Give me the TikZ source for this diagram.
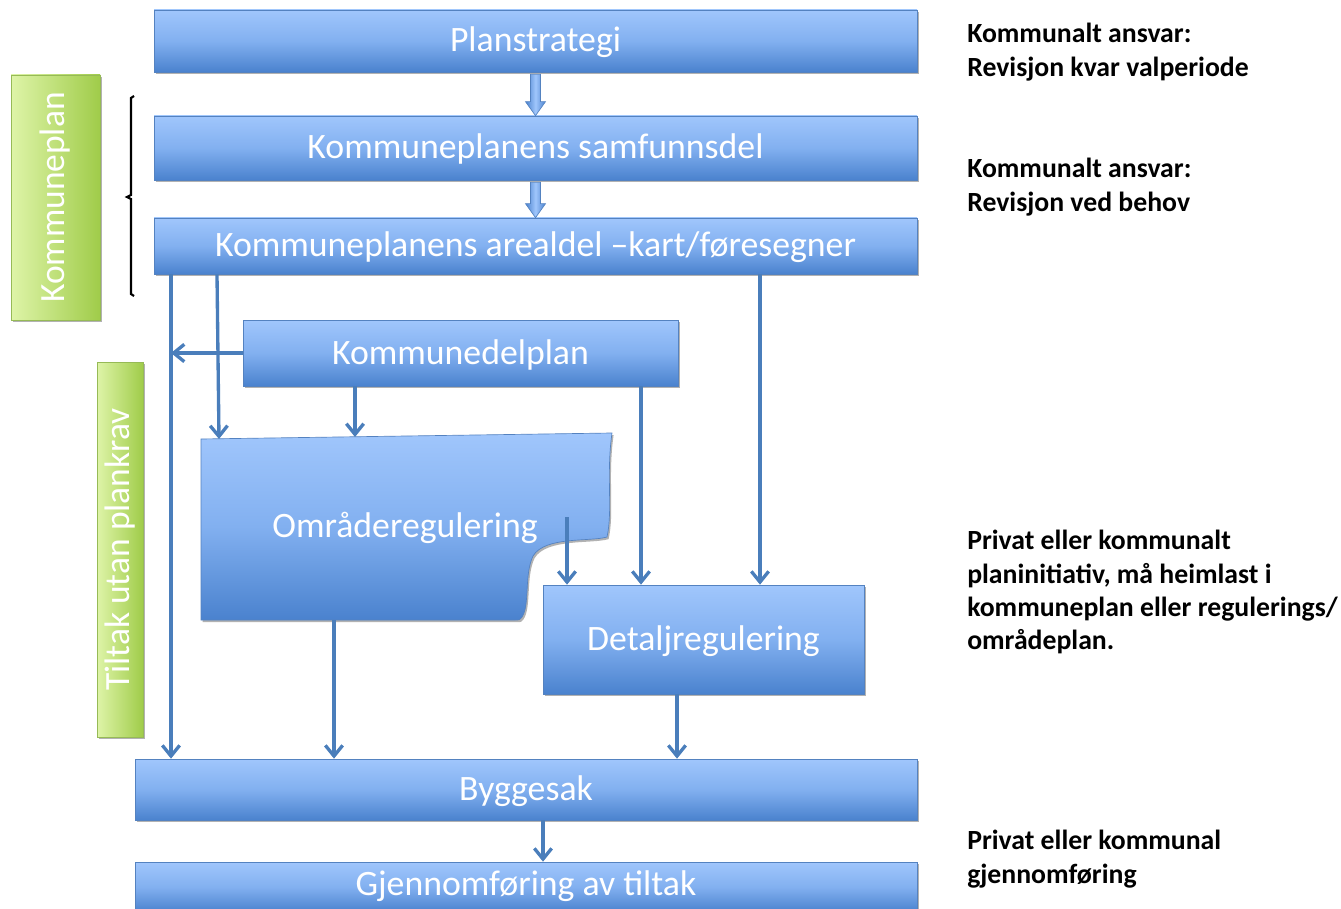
\documentclass[tikz,border=0pt]{standalone}
\usepackage{fontspec}
\setmainfont{Carlito}
\usetikzlibrary{arrows.meta,shadows,calc}

\definecolor{bxtop}{RGB}{160,198,252}
\definecolor{bxmid}{RGB}{130,176,240}
\definecolor{bxbot}{RGB}{74,130,206}
\definecolor{bxedge}{RGB}{84,130,192}
\definecolor{connc}{RGB}{74,126,187}
\definecolor{gnlight}{RGB}{222,244,168}
\definecolor{gndark}{RGB}{160,204,74}
\definecolor{gnedge}{RGB}{150,186,86}

\tikzset{
  boxfill/.style={draw=bxedge, line width=0.5pt, top color=bxtop, bottom color=bxbot, middle color=bxmid},
  softshadow/.style={drop shadow={shadow xshift=1.2pt, shadow yshift=-1.6pt, opacity=0.3, fill=black}},
  boxtext/.style={text=white, font=\fontsize{26.8}{30}\selectfont, inner sep=0pt, text height=21pt, text depth=4.5pt},
  bluebox/.style={boxfill, softshadow, boxtext},
  greenbox/.style={draw=gnedge, line width=0.5pt, left color=gnlight, right color=gndark, softshadow,
    text=white, font=\fontsize{26.6}{30}\selectfont, inner sep=0pt, rotate=90},
  link/.style={draw=connc, line width=2.5pt, -{Straight Barb[length=8pt,width=13pt]}},
  fatarrow/.style={draw=bxedge, line width=0.5pt, left color=bxbot, right color=bxbot, middle color=bxtop},
  note/.style={font=\fontsize{20.8}{25}\selectfont\bfseries, align=left, anchor=north west, inner sep=0pt, text=black},
}

\begin{document}
\begin{tikzpicture}[x=0.75pt,y=-0.75pt]
\useasboundingbox (0,0) rectangle (1341,909);
\clip (0,0) rectangle (1341,909);

% green side labels
\node[greenbox, minimum width=183.75pt, minimum height=66.75pt] (kp) at (55.5,197.5) {Kommuneplan};
\node[greenbox, minimum width=281.25pt, minimum height=34.5pt] (tup) at (120,549.5) {Tiltak utan plankrav};

% brace
\draw[line width=1.6pt, black] (134,96) -- (131,98) -- (131,195) -- (127,197) -- (131,199) -- (131,294) -- (134,296);

% blue boxes
\node[bluebox, minimum width=572.25pt, minimum height=46.5pt] (plan) at (535.5,41) {Planstrategi};
\node[bluebox, minimum width=572.25pt, minimum height=48pt] (samf) at (535.5,148) {Kommuneplanens samfunnsdel};
\node[bluebox, minimum width=572.25pt, minimum height=42pt] (areal) at (535.5,246) {Kommuneplanens arealdel –kart/føresegner};
\node[bluebox, minimum width=326.25pt, minimum height=49.5pt] (kdp) at (460.5,353) {Kommunedelplan};
\node[bluebox, minimum width=240.75pt, minimum height=81.75pt] (det) at (703.5,639.5) {Detaljregulering};
\node[bluebox, minimum width=586.5pt, minimum height=45.75pt] (bygg) at (526,789.5) {Byggesak};
\node[bluebox, minimum width=586.5pt, minimum height=37.5pt, text height=18.5pt, text depth=6.5pt] (gjen) at (526,887) {Gjennomføring av tiltak};

% Områderegulering shape
\path[boxfill, softshadow] (201,439) -- (612,433)
  .. controls (606,475) and (613,510) .. (607,537)
  .. controls (590,542) and (545,536) .. (533,556)
  .. controls (524,575) and (530,605) .. (522,617)
  .. controls (520,620) .. (515,620) -- (201,620) -- cycle;
\node[boxtext] (omr) at (405,526) {Områderegulering};
\coordinate (omrA) at (219,439);
\coordinate (omrB) at (355,437);
\coordinate (omrbot) at (334,620);
\coordinate (omrin) at (567,517);

% fat arrows
\path[fatarrow] ($(plan.south)+(-5,2)$) -- ++(10,0) -- ($(samf.north)+(5,-14)$) -- ++(5,0)
  -- (samf.north) -- ++(-10,-14) -- ++(5,0) -- cycle;
\path[fatarrow] ($(samf.south)+(-5,2)$) -- ++(10,0) -- ($(areal.north)+(5,-14)$) -- ++(5,0)
  -- (areal.north) -- ++(-10,-14) -- ++(5,0) -- cycle;

% x positions of connectors
\coordinate (xa) at (171,0);
\coordinate (xb) at (217,0);
\coordinate (xc) at (355,0);
\coordinate (xd) at (641,0);
\coordinate (xe) at (760,0);
\coordinate (xf) at (677,0);
\coordinate (xg) at (543,0);

% connectors
\draw[link] (xa |- areal.south) -- (xa |- bygg.north);
\draw[link] (xb |- areal.south) -- (omrA);
\draw[link] (kdp.west) -- (kdp.west -| xa);
\draw[link] (xc |- kdp.south) -- (omrB);
\draw[link] (xd |- kdp.south) -- (xd |- det.north);
\draw[link] (xe |- areal.south) -- (xe |- det.north);
\draw[link] (omrin) -- (omrin |- det.north);
\draw[link] (omrbot) -- (omrbot |- bygg.north);
\draw[link] (xf |- det.south) -- (xf |- bygg.north);
\draw[link] (xg |- bygg.south) -- (xg |- gjen.north);

% notes
\node[note] (n1) at (967,23) {Kommunalt ansvar:\\Revisjon kvar valperiode};
\node[note] (n2) at (967,158) {Kommunalt ansvar:\\Revisjon ved behov};
\node[note] (n3) at (967,530) {Privat eller kommunalt\\planinitiativ, må heimlast i\\kommuneplan eller regulerings/\\områdeplan.};
\node[note] (n4) at (967,830) {Privat eller kommunal\\gjennomføring};
\end{tikzpicture}
\end{document}
